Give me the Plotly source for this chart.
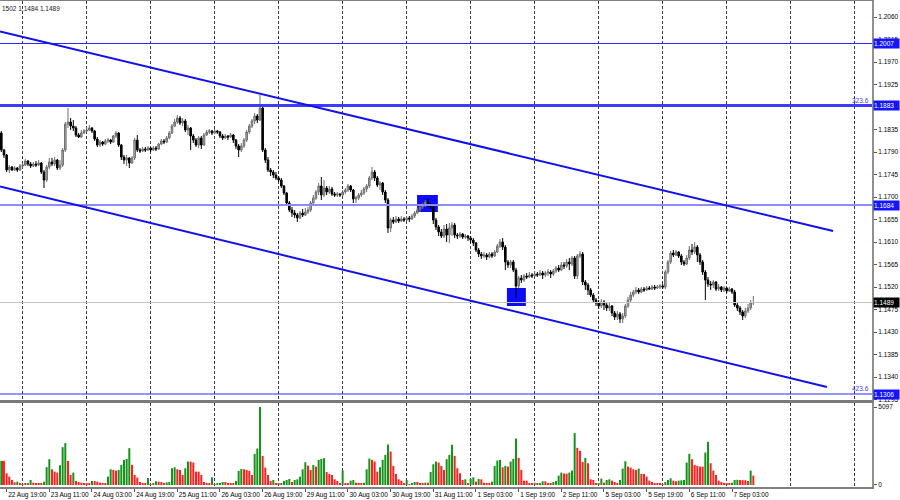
"""GBPUSD H1 chart with a falling channel, Fibonacci levels and a volume pane."""

import plotly.graph_objects as go

# ---- data (hourly bars, 22 Aug 17:00 -> 7 Sep 11:00) ----
FIRST_OPEN = 1.1828

CLOSE = [
    1.1794, 1.1784, 1.1754, 1.1760, 1.1754, 1.1758, 1.1754, 1.1762, 1.1764, 1.1772,
    1.1766, 1.1762, 1.1766, 1.1764, 1.1768, 1.1750, 1.1734, 1.1760, 1.1770, 1.1766,
    1.1774, 1.1758, 1.1764, 1.1794, 1.1846, 1.1850, 1.1842, 1.1838, 1.1824, 1.1820,
    1.1828, 1.1832, 1.1834, 1.1838, 1.1832, 1.1816, 1.1804, 1.1810, 1.1806, 1.1812,
    1.1814, 1.1810, 1.1822, 1.1828, 1.1804, 1.1780, 1.1774, 1.1778, 1.1768, 1.1778,
    1.1814, 1.1794, 1.1792, 1.1796, 1.1794, 1.1798, 1.1794, 1.1798, 1.1796, 1.1806,
    1.1812, 1.1810, 1.1818, 1.1828, 1.1842, 1.1850, 1.1858, 1.1848, 1.1852, 1.1834,
    1.1838, 1.1822, 1.1814, 1.1804, 1.1818, 1.1804, 1.1824, 1.1830, 1.1832, 1.1828,
    1.1832, 1.1830, 1.1822, 1.1818, 1.1822, 1.1820, 1.1824, 1.1814, 1.1802, 1.1794,
    1.1802, 1.1814, 1.1830, 1.1842, 1.1852, 1.1862, 1.1854, 1.1878, 1.1794, 1.1774,
    1.1754, 1.1750, 1.1744, 1.1738, 1.1734, 1.1722, 1.1708, 1.1688, 1.1674, 1.1668,
    1.1664, 1.1658, 1.1668, 1.1664, 1.1670, 1.1674, 1.1688, 1.1698, 1.1710, 1.1722,
    1.1704, 1.1718, 1.1710, 1.1716, 1.1706, 1.1704, 1.1706, 1.1704, 1.1710, 1.1714,
    1.1722, 1.1714, 1.1696, 1.1698, 1.1704, 1.1708, 1.1716, 1.1722, 1.1738, 1.1750,
    1.1738, 1.1724, 1.1728, 1.1710, 1.1694, 1.1638, 1.1654, 1.1650, 1.1656, 1.1652,
    1.1656, 1.1654, 1.1658, 1.1656, 1.1662, 1.1668, 1.1674, 1.1680, 1.1684, 1.1690,
    1.1684, 1.1680, 1.1654, 1.1640, 1.1630, 1.1622, 1.1636, 1.1624, 1.1638, 1.1644,
    1.1624, 1.1622, 1.1626, 1.1620, 1.1622, 1.1618, 1.1614, 1.1608, 1.1594, 1.1586,
    1.1582, 1.1584, 1.1580, 1.1586, 1.1582, 1.1590, 1.1602, 1.1610, 1.1600, 1.1570,
    1.1564, 1.1570, 1.1554, 1.1522, 1.1538, 1.1534, 1.1542, 1.1540, 1.1544, 1.1542,
    1.1546, 1.1544, 1.1548, 1.1544, 1.1548, 1.1550, 1.1546, 1.1552, 1.1558, 1.1554,
    1.1564, 1.1562, 1.1570, 1.1566, 1.1578, 1.1542, 1.1582, 1.1586, 1.1530, 1.1524,
    1.1514, 1.1504, 1.1494, 1.1488, 1.1482, 1.1490, 1.1484, 1.1478, 1.1482, 1.1468,
    1.1460, 1.1466, 1.1456, 1.1462, 1.1482, 1.1494, 1.1504, 1.1510, 1.1514, 1.1510,
    1.1516, 1.1514, 1.1518, 1.1516, 1.1520, 1.1518, 1.1520, 1.1522, 1.1520, 1.1550,
    1.1570, 1.1588, 1.1584, 1.1590, 1.1582, 1.1570, 1.1566, 1.1578, 1.1594, 1.1590,
    1.1600, 1.1584, 1.1570, 1.1550, 1.1534, 1.1526, 1.1524, 1.1530, 1.1516, 1.1520,
    1.1514, 1.1518, 1.1512, 1.1516, 1.1510, 1.1484, 1.1478, 1.1470, 1.1462, 1.1472,
    1.1478, 1.1488, 1.1489,
]

HIGH = [
    1.1832, 1.1796, 1.1786, 1.1764, 1.1762, 1.1762, 1.1760, 1.1766, 1.1768, 1.1776,
    1.1774, 1.1770, 1.1770, 1.1772, 1.1774, 1.1770, 1.1754, 1.1764, 1.1778, 1.1778,
    1.1780, 1.1776, 1.1774, 1.1798, 1.1850, 1.1878, 1.1858, 1.1854, 1.1842, 1.1828,
    1.1834, 1.1836, 1.1840, 1.1844, 1.1840, 1.1834, 1.1820, 1.1814, 1.1812, 1.1816,
    1.1818, 1.1816, 1.1824, 1.1832, 1.1830, 1.1806, 1.1784, 1.1784, 1.1780, 1.1782,
    1.1818, 1.1824, 1.1798, 1.1800, 1.1800, 1.1802, 1.1800, 1.1802, 1.1802, 1.1808,
    1.1816, 1.1816, 1.1822, 1.1832, 1.1846, 1.1856, 1.1864, 1.1862, 1.1858, 1.1856,
    1.1844, 1.1840, 1.1826, 1.1818, 1.1822, 1.1822, 1.1828, 1.1834, 1.1836, 1.1834,
    1.1836, 1.1834, 1.1832, 1.1826, 1.1826, 1.1824, 1.1828, 1.1826, 1.1816, 1.1806,
    1.1808, 1.1818, 1.1834, 1.1846, 1.1856, 1.1868, 1.1866, 1.1904, 1.1882, 1.1798,
    1.1780, 1.1758, 1.1754, 1.1750, 1.1742, 1.1738, 1.1724, 1.1710, 1.1692, 1.1680,
    1.1674, 1.1668, 1.1672, 1.1676, 1.1678, 1.1680, 1.1692, 1.1704, 1.1714, 1.1728,
    1.1740, 1.1734, 1.1722, 1.1722, 1.1720, 1.1710, 1.1710, 1.1708, 1.1714, 1.1718,
    1.1726, 1.1724, 1.1716, 1.1702, 1.1708, 1.1714, 1.1720, 1.1726, 1.1742, 1.1760,
    1.1754, 1.1742, 1.1732, 1.1730, 1.1714, 1.1698, 1.1658, 1.1660, 1.1662, 1.1660,
    1.1662, 1.1660, 1.1662, 1.1662, 1.1666, 1.1672, 1.1678, 1.1684, 1.1688, 1.1694,
    1.1696, 1.1688, 1.1684, 1.1658, 1.1644, 1.1636, 1.1644, 1.1646, 1.1648, 1.1650,
    1.1648, 1.1628, 1.1630, 1.1628, 1.1626, 1.1624, 1.1622, 1.1618, 1.1610, 1.1598,
    1.1590, 1.1590, 1.1588, 1.1590, 1.1590, 1.1594, 1.1606, 1.1616, 1.1618, 1.1604,
    1.1574, 1.1574, 1.1574, 1.1558, 1.1542, 1.1544, 1.1546, 1.1548, 1.1550, 1.1548,
    1.1552, 1.1550, 1.1554, 1.1552, 1.1552, 1.1556, 1.1554, 1.1556, 1.1562, 1.1564,
    1.1570, 1.1570, 1.1576, 1.1578, 1.1582, 1.1582, 1.1586, 1.1592, 1.1590, 1.1534,
    1.1528, 1.1518, 1.1508, 1.1498, 1.1494, 1.1496, 1.1494, 1.1488, 1.1488, 1.1484,
    1.1472, 1.1472, 1.1470, 1.1468, 1.1486, 1.1500, 1.1510, 1.1514, 1.1520, 1.1518,
    1.1520, 1.1520, 1.1522, 1.1522, 1.1524, 1.1524, 1.1524, 1.1526, 1.1526, 1.1554,
    1.1574, 1.1592, 1.1594, 1.1594, 1.1592, 1.1586, 1.1574, 1.1584, 1.1602, 1.1606,
    1.1610, 1.1604, 1.1588, 1.1574, 1.1554, 1.1540, 1.1532, 1.1534, 1.1532, 1.1526,
    1.1522, 1.1522, 1.1520, 1.1520, 1.1518, 1.1514, 1.1488, 1.1482, 1.1474, 1.1478,
    1.1486, 1.1494, 1.1502,
]

LOW = [
    1.1790, 1.1778, 1.1750, 1.1748, 1.1752, 1.1752, 1.1750, 1.1752, 1.1758, 1.1762,
    1.1762, 1.1758, 1.1760, 1.1760, 1.1762, 1.1746, 1.1718, 1.1730, 1.1756, 1.1762,
    1.1762, 1.1754, 1.1754, 1.1760, 1.1790, 1.1838, 1.1834, 1.1832, 1.1820, 1.1818,
    1.1818, 1.1826, 1.1830, 1.1832, 1.1828, 1.1812, 1.1800, 1.1800, 1.1802, 1.1804,
    1.1808, 1.1806, 1.1808, 1.1818, 1.1800, 1.1774, 1.1766, 1.1762, 1.1758, 1.1766,
    1.1774, 1.1790, 1.1788, 1.1790, 1.1790, 1.1792, 1.1790, 1.1792, 1.1792, 1.1794,
    1.1804, 1.1806, 1.1808, 1.1816, 1.1826, 1.1840, 1.1846, 1.1844, 1.1842, 1.1830,
    1.1824, 1.1794, 1.1808, 1.1800, 1.1798, 1.1796, 1.1802, 1.1822, 1.1826, 1.1824,
    1.1826, 1.1826, 1.1818, 1.1814, 1.1816, 1.1814, 1.1818, 1.1808, 1.1796, 1.1780,
    1.1790, 1.1798, 1.1810, 1.1826, 1.1838, 1.1846, 1.1848, 1.1852, 1.1790, 1.1768,
    1.1750, 1.1742, 1.1738, 1.1734, 1.1730, 1.1718, 1.1704, 1.1684, 1.1670, 1.1660,
    1.1658, 1.1650, 1.1656, 1.1660, 1.1662, 1.1666, 1.1670, 1.1684, 1.1694, 1.1704,
    1.1694, 1.1700, 1.1704, 1.1706, 1.1702, 1.1700, 1.1700, 1.1700, 1.1702, 1.1706,
    1.1710, 1.1710, 1.1688, 1.1688, 1.1694, 1.1700, 1.1704, 1.1710, 1.1718, 1.1734,
    1.1732, 1.1720, 1.1714, 1.1704, 1.1688, 1.1628, 1.1630, 1.1646, 1.1648, 1.1648,
    1.1650, 1.1650, 1.1652, 1.1650, 1.1654, 1.1658, 1.1666, 1.1670, 1.1676, 1.1680,
    1.1680, 1.1676, 1.1646, 1.1634, 1.1622, 1.1618, 1.1618, 1.1610, 1.1608, 1.1622,
    1.1618, 1.1616, 1.1618, 1.1616, 1.1616, 1.1612, 1.1608, 1.1602, 1.1590, 1.1580,
    1.1576, 1.1578, 1.1574, 1.1578, 1.1578, 1.1580, 1.1588, 1.1598, 1.1594, 1.1554,
    1.1558, 1.1558, 1.1550, 1.1498, 1.1518, 1.1528, 1.1530, 1.1536, 1.1538, 1.1538,
    1.1540, 1.1540, 1.1542, 1.1536, 1.1540, 1.1542, 1.1538, 1.1542, 1.1548, 1.1550,
    1.1552, 1.1556, 1.1558, 1.1554, 1.1562, 1.1536, 1.1536, 1.1578, 1.1524, 1.1514,
    1.1504, 1.1500, 1.1490, 1.1482, 1.1476, 1.1478, 1.1474, 1.1472, 1.1472, 1.1462,
    1.1454, 1.1454, 1.1448, 1.1448, 1.1458, 1.1478, 1.1488, 1.1500, 1.1506, 1.1506,
    1.1508, 1.1510, 1.1512, 1.1514, 1.1514, 1.1514, 1.1516, 1.1516, 1.1516, 1.1516,
    1.1546, 1.1566, 1.1580, 1.1582, 1.1578, 1.1564, 1.1562, 1.1564, 1.1574, 1.1584,
    1.1586, 1.1570, 1.1564, 1.1544, 1.1494, 1.1520, 1.1514, 1.1518, 1.1512, 1.1512,
    1.1510, 1.1510, 1.1508, 1.1510, 1.1506, 1.1480, 1.1472, 1.1464, 1.1454, 1.1458,
    1.1468, 1.1474, 1.1484,
]

VOLUME = [
    1575, 1575, 766, 547, 328, 175, 219, 109, 44, 66,
    66, 328, 153, 109, 109, 66, 219, 1159, 1684, 1028,
    875, 809, 1291, 2472, 2735, 1575, 656, 809, 263, 197,
    153, 109, 109, 66, 263, 263, 219, 153, 109, 66,
    547, 1028, 984, 941, 984, 1313, 1641, 1706, 2406, 1313,
    656, 481, 197, 109, 66, 459, 44, 109, 241, 219,
    197, 109, 175, 197, 1094, 1159, 1028, 984, 656, 1094,
    1531, 1531, 1466, 875, 875, 656, 197, 109, 66, 503,
    22, 66, 109, 197, 197, 109, 109, 109, 263, 919,
    1050, 1028, 984, 919, 656, 2034, 2384, 5097, 1903, 1138,
    656, 263, 328, 109, 66, 109, 263, 328, 394, 197,
    328, 372, 547, 1028, 1488, 1269, 984, 1313, 1203, 1641,
    1706, 1750, 853, 722, 656, 372, 263, 66, 941, 109,
    109, 284, 328, 153, 109, 109, 153, 1028, 1728, 1641,
    1531, 875, 1159, 1641, 1969, 2647, 2188, 1247, 722, 372,
    284, 66, 328, 44, 66, 197, 197, 109, 109, 153,
    153, 853, 1356, 1531, 1466, 1247, 984, 1684, 1969, 2625,
    1903, 1094, 766, 328, 372, 66, 416, 503, 219, 394,
    372, 153, 109, 109, 219, 1247, 1597, 1641, 1159, 1247,
    1203, 1531, 1706, 3041, 1772, 984, 284, 284, 109, 66,
    153, 66, 109, 241, 241, 109, 109, 197, 263, 613,
    809, 744, 744, 809, 941, 3391, 2428, 2231, 1509, 1772,
    1422, 372, 328, 66, 109, 416, 153, 328, 372, 284,
    197, 109, 328, 1072, 1553, 1203, 1138, 1028, 984, 1072,
    722, 722, 547, 284, 197, 109, 66, 66, 44, 197,
    328, 438, 284, 241, 284, 306, 328, 1466, 2034, 1684,
    1313, 1247, 1203, 1203, 2122, 2822, 1422, 941, 656, 284,
    197, 66, 66, 66, 153, 328, 340, 328, 320, 310,
    263, 941, 613,
]

# x-axis labels sit on every 16th bar
TICK_BARS = [2, 18, 34, 50, 66, 82, 98, 114, 130, 146, 162, 178, 194, 210, 226, 242, 258, 274]
TICK_LABELS = [
    "22 Aug 19:00", "23 Aug 11:00", "24 Aug 03:00", "24 Aug 19:00", "25 Aug 11:00",
    "26 Aug 03:00", "26 Aug 19:00", "29 Aug 11:00", "30 Aug 03:00", "30 Aug 19:00",
    "31 Aug 11:00", "1 Sep 03:00", "1 Sep 19:00", "2 Sep 11:00", "5 Sep 03:00",
    "5 Sep 19:00", "6 Sep 11:00", "7 Sep 03:00",
]

PRICE_TICKS = [1.2060, 1.2015, 1.1970, 1.1925, 1.1880, 1.1835, 1.1790, 1.1745, 1.1700,
               1.1655, 1.1610, 1.1565, 1.1520, 1.1475, 1.1430, 1.1385, 1.1340, 1.1295]

# horizontal levels: (price, colour, width)
LEVELS = [
    (1.2007, "#2a2aff", 1),
    (1.1883, "#3c3cff", 3),
    (1.1684, "#8c8cff", 2),
    (1.1306, "#2a2aff", 1),
]
LAST_PRICE = 1.1489

# channel lines as (bar, price) end points
CHANNEL_UPPER = [(-0.5, 1.2031), (311.9, 1.1632)]
CHANNEL_LOWER = [(-0.5, 1.1721), (309.6, 1.1320)]

# marked boxes as (bar0, bar1, price_low, price_high)
BOXES = [(155.9, 163.7, 1.1670, 1.1704), (189.6, 196.7, 1.1482, 1.1518)]

FONT = "Liberation Sans"
FS = 6.5

bars = list(range(len(CLOSE)))
opens = [FIRST_OPEN] + CLOSE[:-1]  # hourly FX bars open at the prior close

vol_colors = ["#14941a"]
for i in range(1, len(VOLUME)):
    vol_colors.append("#14941a" if VOLUME[i] > VOLUME[i - 1] else "#ff2020")

fig = go.Figure()
fig.add_trace(go.Candlestick(
    x=bars, open=opens, high=HIGH, low=LOW, close=CLOSE,
    increasing=dict(line=dict(color="#6e6e6e", width=1), fillcolor="#b0b0b0"),
    decreasing=dict(line=dict(color="#000000", width=1), fillcolor="#000000"),
    whiskerwidth=0, xaxis="x", yaxis="y", hoverinfo="skip",
))
fig.add_trace(go.Bar(
    x=bars, y=VOLUME, marker=dict(color=vol_colors, line_width=0), width=0.75,
    xaxis="x2", yaxis="y2", hoverinfo="skip",
))

grid = dict(tick0=7.9, dtick=24, showgrid=True, gridcolor="#3a3a3a",
            griddash="3px,2px", gridwidth=1, ticks="")
x_range = [-0.49, 326.5]

fig.update_layout(
    width=900, height=500,
    margin=dict(l=0, r=28, t=1, b=13, autoexpand=False),
    paper_bgcolor="white", plot_bgcolor="white",
    showlegend=False, hovermode=False, boxgap=0.15,
    font=dict(family=FONT, size=FS, color="black"),
    xaxis=dict(domain=[0, 1], anchor="y", range=x_range, showticklabels=False,
               showgrid=False, zeroline=False, rangeslider=dict(visible=False),
               showline=True, mirror=True, linecolor="#808080", linewidth=1,
               minor=grid, automargin=False),
    xaxis2=dict(domain=[0, 1], anchor="y2", range=x_range, matches="x",
                tickmode="array", tickvals=TICK_BARS, ticktext=TICK_LABELS,
                ticklabelposition="outside right", tickangle=0,
                ticks="outside", ticklen=3, tickcolor="#555", showgrid=False,
                zeroline=False, showline=True, mirror=True, linecolor="#808080",
                linewidth=2, minor=grid, tickfont=dict(size=FS), automargin=False),
    yaxis=dict(domain=[0.179, 1], anchor="x", side="right", range=[1.1294, 1.2092],
               tickmode="array", tickvals=PRICE_TICKS,
               ticktext=[f"{v:.4f}" for v in PRICE_TICKS],
               ticks="outside", ticklen=3, tickcolor="#555", showgrid=False,
               zeroline=False, showline=True, linecolor="#909090", linewidth=2,
               automargin=False),
    yaxis2=dict(domain=[0, 0.1728], anchor="x2", side="right", range=[-131, 5358],
                tickmode="array", tickvals=[0, 5097], ticktext=["0", "5097"],
                ticks="outside", ticklen=3, tickcolor="#555", showgrid=False,
                zeroline=False, showline=True, linecolor="#909090", linewidth=2,
                automargin=False),
)

shapes = []
# separator band between the price and volume panes
shapes.append(dict(type="rect", xref="paper", yref="paper", x0=0, x1=1,
                   y0=0.1728, y1=0.179, fillcolor="#7a7a7a", line_width=0))
for b0, b1, lo, hi in BOXES:
    shapes.append(dict(type="rect", xref="x", yref="y", x0=b0, x1=b1, y0=lo, y1=hi,
                       fillcolor="#0c0cf5", line_width=0, layer="below"))
shapes.append(dict(type="line", xref="paper", yref="y", x0=0, x1=1,
                   y0=LAST_PRICE, y1=LAST_PRICE, line=dict(color="#c4c4c4", width=1)))
for price, color, width in LEVELS:
    shapes.append(dict(type="line", xref="paper", yref="y", x0=0, x1=1,
                       y0=price, y1=price, line=dict(color=color, width=width)))
for (b0, p0), (b1, p1) in (CHANNEL_UPPER, CHANNEL_LOWER):
    shapes.append(dict(type="line", xref="x", yref="y", x0=b0, y0=p0, x1=b1, y1=p1,
                       line=dict(color="#1010f0", width=2)))
fig.update_layout(shapes=shapes)

annotations = []
for price, _, _ in LEVELS:
    annotations.append(dict(xref="paper", yref="y", x=1.0, y=price, xanchor="left",
                            text=f"{price:.4f}", showarrow=False, bgcolor="#1414ff",
                            font=dict(color="white", size=FS), width=25, height=9,
                            borderpad=0, align="left", xshift=1))
annotations.append(dict(xref="paper", yref="y", x=1.0, y=LAST_PRICE, xanchor="left",
                        text=f"{LAST_PRICE:.4f}", showarrow=False, bgcolor="black",
                        font=dict(color="white", size=FS), width=25, height=9,
                        borderpad=0, align="left", xshift=1))
for price, label in ((1.1883, "323.6"), (1.1306, "423.6")):
    annotations.append(dict(xref="paper", yref="y", x=1.0, y=price, xanchor="right",
                            yanchor="bottom", text=label, showarrow=False,
                            font=dict(color="#3c3cff", size=FS), xshift=-1))
annotations.append(dict(xref="paper", yref="paper", x=0, y=1, xanchor="left",
                        yanchor="top", text="1502 1.1484 1.1489", showarrow=False,
                        font=dict(color="#202020", size=FS), yshift=-2))
fig.update_layout(annotations=annotations)

# drop the browser's default page margin so the 900x500 figure fills the window
fig.write_html("out.html", config={"displayModeBar": False},
               post_script="document.body.style.margin='0';")
